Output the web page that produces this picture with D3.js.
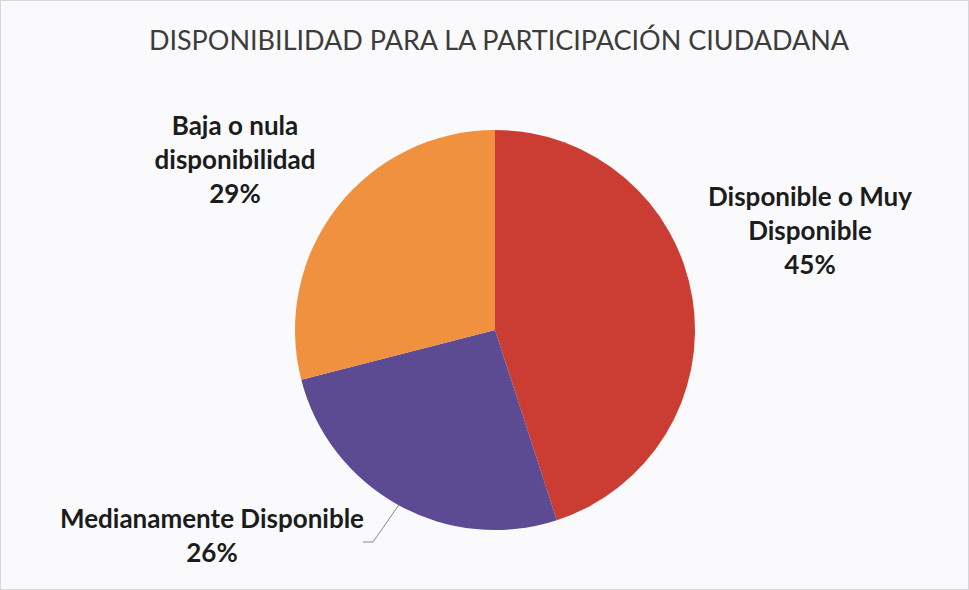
<!DOCTYPE html>
<html>
<head>
<meta charset="utf-8">
<script src="https://cdn.jsdelivr.net/npm/d3@7"></script>
<style>
  html, body { margin: 0; padding: 0; background: #ffffff; }
  svg { display: block; }
</style>
</head>
<body>
<div id="chart"></div>
<script>
// Datos del gráfico
const categorias = ['Disponible o Muy Disponible', 'Medianamente Disponible', 'Baja o nula disponibilidad'];
const valores = [45, 26, 29];
const colores = ['#cb3d33', '#5c4a93', '#f0913f'];
const etiquetas = [
    ['Disponible o Muy', 'Disponible', '45%'],
    ['Medianamente Disponible', '26%'],
    ['Baja o nula', 'disponibilidad', '29%']
];
const titulo = 'DISPONIBILIDAD PARA LA PARTICIPACIÓN CIUDADANA';

// Layout
const width = 969, height = 590;
const cx = 495, cy = 330, radius = 200;
// posiciones de las etiquetas (línea base del primer renglón)
const labelPos = [
    {x: 810, y: 206},
    {x: 212, y: 528},
    {x: 235, y: 135}
];
const lineHeight = 34;

const svg = d3.select('#chart').append('svg')
    .attr('width', width)
    .attr('height', height);

svg.append('rect')
    .attr('x', 0.5).attr('y', 0.5)
    .attr('width', width - 1).attr('height', height - 1)
    .attr('fill', '#fafafc')
    .attr('stroke', '#d6d6dc');

svg.append('text')
    .attr('x', 499)
    .attr('y', 50)
    .attr('text-anchor', 'middle')
    .style('font-family', 'Lato, "Open Sans", sans-serif')
    .style('font-size', '27px')
    .style('fill', '#3c3c3c')
    .text(titulo);

const pie = d3.pie().sort(null).value(d => d);
const arcs = pie(valores);
const arc = d3.arc().innerRadius(0).outerRadius(radius);

const g = svg.append('g').attr('transform', `translate(${cx},${cy})`);

g.selectAll('path.slice')
    .data(arcs)
    .enter()
    .append('path')
    .attr('class', 'slice')
    .attr('d', arc)
    .attr('fill', (d, i) => colores[i]);

// Línea guía para "Medianamente Disponible"
const guia = arcs[1];
const ang = (guia.startAngle + guia.endAngle) / 2;
const p0 = [cx + Math.sin(ang) * radius, cy - Math.cos(ang) * radius];
svg.append('polyline')
    .attr('points', [p0, [373, 542], [363, 542]].map(p => p.join(',')).join(' '))
    .attr('fill', 'none')
    .attr('stroke', '#8a8a8a')
    .attr('stroke-width', 1);

// Etiquetas
const labels = svg.selectAll('text.label')
    .data(etiquetas)
    .enter()
    .append('text')
    .attr('class', 'label')
    .attr('text-anchor', 'middle')
    .style('font-family', 'Lato, "Open Sans", sans-serif')
    .style('font-weight', 'bold')
    .style('font-size', '26px')
    .style('fill', '#1c1c1c');

labels.each(function(lineas, i) {
    const t = d3.select(this);
    lineas.forEach((l, j) => {
        t.append('tspan')
            .attr('x', labelPos[i].x)
            .attr('y', labelPos[i].y + j * lineHeight)
            .text(l);
    });
});
</script>
</body>
</html>
